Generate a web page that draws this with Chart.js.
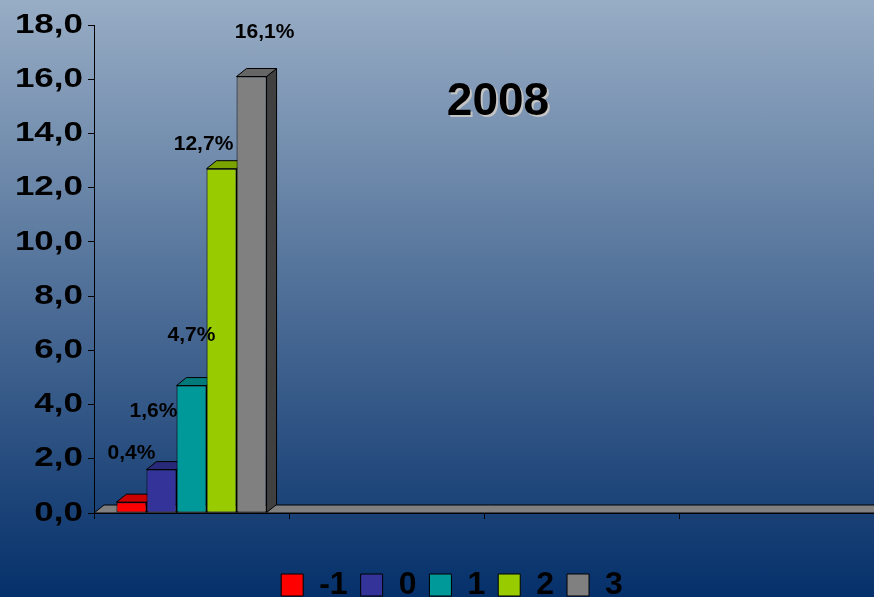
<!DOCTYPE html>
<html>
<head>
<meta charset="utf-8">
<script src="https://cdn.jsdelivr.net/npm/chart.js@4/dist/chart.umd.min.js"></script>
<style>
  html, body { margin: 0; padding: 0; }
  #wrap {
    width: 874px; height: 597px; position: relative;
    background: linear-gradient(to bottom, #98adc5 0%, #4e6e97 50%, #05306a 100%);
  }
  canvas { display: block; }
</style>
</head>
<body>
<div id="wrap"><canvas id="c" width="874" height="597"></canvas></div>
<script>
// Category slots on the x axis (only the first one carries data)
const categories = ['2008', '', '', ''];
// Series shown in the legend
const seriesNames = ['-1', '0', '1', '2', '3'];
// Share (%) per series for 2008
const seriesValues = [0.4, 1.6, 4.7, 12.7, 16.1];
const seriesColors = ['#ff0000', '#333399', '#009999', '#99cc00', '#808080'];
// Value axis ticks
const yTicks = [0, 2, 4, 6, 8, 10, 12, 14, 16, 18];
const chartTitle = '2008';

const FONT = "'Liberation Sans', Arial, sans-serif";

function shade(hex, f) {
  const n = parseInt(hex.slice(1), 16);
  const r = Math.round(((n >> 16) & 255) * f);
  const g = Math.round(((n >> 8) & 255) * f);
  const b = Math.round((n & 255) * f);
  return `rgb(${r},${g},${b})`;
}

const comma = v => v.toFixed(1).replace('.', ',');

// Floor plate plus top and side faces, drawn behind the flat bar fronts
const depthPlugin = {
  id: 'depth3d',
  beforeDatasetsDraw(chart, args, opts) {
    const { ctx, chartArea: a, scales: { y } } = chart;
    const dx = opts.dx, dy = opts.dy;
    const y0 = y.getPixelForValue(0);
    const poly = (pts, fill) => {
      ctx.beginPath();
      pts.forEach((p, k) => k ? ctx.lineTo(p[0], p[1]) : ctx.moveTo(p[0], p[1]));
      ctx.closePath();
      ctx.fillStyle = fill;
      ctx.fill();
      ctx.stroke();
    };
    ctx.save();
    ctx.lineWidth = 1;
    ctx.strokeStyle = '#000';
    poly([[a.left, y0], [a.left + dx, y0 - dy], [a.right + dx + 20, y0 - dy], [a.right + 20, y0]], '#808080');
    chart.data.datasets.forEach((ds, i) => {
      chart.getDatasetMeta(i).data.forEach((bar, j) => {
        if (ds.data[j] == null) return;
        const p = bar.getProps(['x', 'y', 'base', 'width'], true);
        const l = p.x - p.width / 2, r = p.x + p.width / 2;
        poly([[r, p.base], [r, p.y], [r + dx, p.y - dy], [r + dx, p.base - dy]], shade(ds.backgroundColor, 0.5));
        poly([[l, p.y], [r, p.y], [r + dx, p.y - dy], [l + dx, p.y - dy]], shade(ds.backgroundColor, 0.8));
      });
    });
    ctx.restore();
  }
};

// Wide, heavy value-axis numerals: stretch the library's own tick labels horizontally
const wideTicksPlugin = {
  id: 'wideTicks',
  beforeDraw(chart, args, opts) {
    const s = chart.scales.y;
    if (s._wide) return;
    const orig = s.drawLabels;
    s.drawLabels = function (area) {
      const ctx = this.ctx;
      const xr = this.right - opts.edge;
      ctx.save();
      ctx.translate(xr, 0);
      ctx.scale(opts.stretch, 1);
      ctx.translate(-xr, 0);
      orig.call(this, area);
      ctx.restore();
    };
    s._wide = true;
  }
};

// Push the legend row down towards the bottom edge
const legendDropPlugin = {
  id: 'legendDrop',
  afterLayout(chart, args, opts) {
    const lg = chart.legend;
    if (!lg) return;
    lg.top += opts.shift;
    lg.bottom += opts.shift;
  }
};

// Percentage labels above each bar
const labelPlugin = {
  id: 'barLabels',
  afterDatasetsDraw(chart, args, opts) {
    const { ctx } = chart;
    ctx.save();
    ctx.font = `bold ${opts.size}px ${FONT}`;
    ctx.fillStyle = '#000';
    ctx.textAlign = 'center';
    ctx.textBaseline = 'middle';
    chart.data.datasets.forEach((ds, i) => {
      const bar = chart.getDatasetMeta(i).data[0];
      const v = ds.data[0];
      const n = opts.nudge[i] || [0, -40];
      ctx.fillText(comma(v) + '%', bar.x + n[0], bar.y + n[1]);
    });
    ctx.restore();
  }
};

// Large title inside the plot with a soft drop shadow
const titlePlugin = {
  id: 'plotTitle',
  afterDraw(chart, args, opts) {
    const { ctx, chartArea: a } = chart;
    const x = a.left + a.width * opts.fx, y = a.top + opts.dy;
    ctx.save();
    ctx.font = `bold ${opts.size}px ${FONT}`;
    ctx.textAlign = 'center';
    ctx.textBaseline = 'middle';
    ctx.fillStyle = '#c4c4c4';
    ctx.fillText(opts.text, x + 2, y + 2);
    ctx.fillStyle = '#000';
    ctx.fillText(opts.text, x, y);
    ctx.restore();
  }
};

new Chart(document.getElementById('c'), {
  type: 'bar',
  data: {
    labels: categories,
    datasets: seriesNames.map((name, i) => ({
      label: name,
      data: categories.map((c, j) => (j === 0 ? seriesValues[i] : null)),
      backgroundColor: seriesColors[i],
      borderColor: '#000',
      borderWidth: 1,
      borderSkipped: false,
      categoryPercentage: 0.77,
      barPercentage: 1
    }))
  },
  options: {
    responsive: false,
    animation: false,
    layout: { padding: { left: 30, right: 0, top: 25, bottom: 23 } },
    scales: {
      x: {
        ticks: { display: false },
        grid: { drawOnChartArea: false, tickLength: 6, color: '#000', offset: true },
        border: { color: '#000' }
      },
      y: {
        min: 0, max: 18,
        afterBuildTicks: s => { s.ticks = yTicks.map(v => ({ value: v })); },
        afterFit: s => { s.width = 64; },
        ticks: {
          color: '#000',
          padding: 5,
          font: { family: FONT, size: 28, weight: 'bold' },
          callback: v => comma(v)
        },
        grid: { drawOnChartArea: false, tickLength: 6, color: '#000' },
        border: { color: '#000' }
      }
    },
    plugins: {
      legend: {
        position: 'bottom',
        labels: {
          color: '#000',
          boxWidth: 22,
          boxHeight: 22,
          padding: 13,
          font: { family: FONT, size: 32, weight: 'bold' }
        }
      },
      tooltip: { enabled: false },
      depth3d: { dx: 10, dy: 8 },
      wideTicks: { stretch: 1.25, edge: 11 },
      legendDrop: { shift: 37 },
      barLabels: { size: 21, nudge: [[0, -49], [-8, -58], [0, -50], [-18, -24], [13, -44]] },
      plotTitle: { text: chartTitle, size: 46, fx: 0.518, dy: 77 }
    }
  },
  plugins: [depthPlugin, wideTicksPlugin, legendDropPlugin, labelPlugin, titlePlugin]
});
</script>
</body>
</html>
